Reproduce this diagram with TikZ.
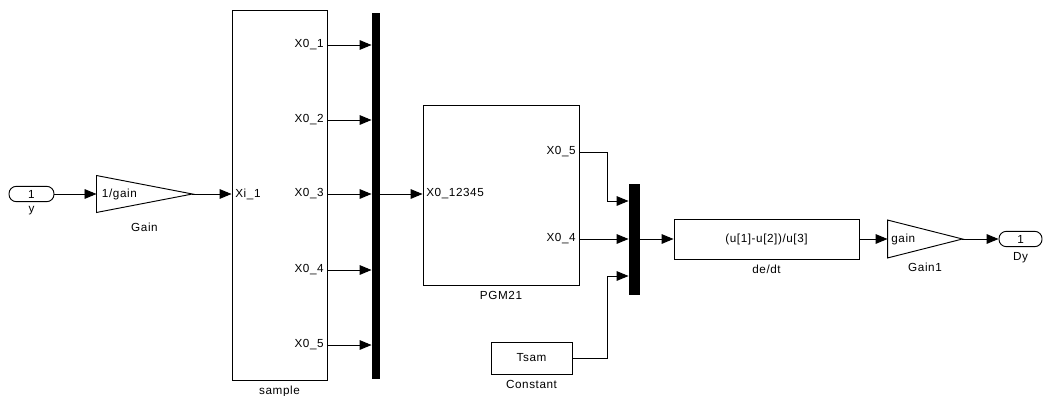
\documentclass[tikz,border=0pt]{standalone}
\usepackage{fontspec}
\setmainfont{Liberation Sans}[LetterSpace=5]
\usepackage{tikz}
\usetikzlibrary{positioning,arrows.meta}

\begin{document}
\begin{tikzpicture}[
  x=0.03cm, y=-0.03cm,
  font=\fontsize{10}{12}\selectfont,
  line width=0.8pt,
  blk/.style={draw, line width=0.8pt, inner sep=0pt},
  inport/.style={draw, rounded corners=0.22cm, minimum height=0.46cm, inner sep=0pt},
  gainblk/.style={inner xsep=0.15cm, inner ysep=0pt, align=left},
  muxbar/.style={fill=black, draw=black, inner sep=0pt},
  port/.style={inner sep=0.1cm},
  lbl/.style={inner sep=0pt},
  arr/.style={-{Triangle[length=0.36cm, width=0.29cm]}}]
\useasboundingbox (0,0) rectangle (1043,396);
% input side
\node[inport, minimum width=1.35cm] (yin) at (31.5,194) {1};
\node[lbl, below=0.12cm of yin] (ylbl) {y};
\node[gainblk, minimum width=2.85cm, minimum height=1.08cm, text width=2.55cm] (gain) at (144.5,194) {1/gain};
\draw (gain.north west) -- (gain.east) -- (gain.south west) -- cycle;
\node[lbl, below=0.3cm of gain] (gainlbl) {Gain};
\node[blk, minimum width=2.85cm, minimum height=11.1cm] (sample) at (279.5,195) {};
\node[lbl, below=0.15cm of sample] (samplelbl) {sample};
\node[port, anchor=west] (xi) at (sample.west |- yin) {Xi\_1};
\node[muxbar, minimum width=0.21cm, minimum height=10.95cm] (mux1) at (375.5,195.5) {};
\draw[arr] (yin) -- (gain);
\draw[arr] (gain.east) -- (sample.west |- gain.east);
\foreach \i/\yy in {1/45,2/120,3/194,4/270,5/345} {
  \node[port, anchor=east] (so\i) at (sample.east |- 0,\yy) {X0\_\i};
  \draw[arr] (sample.east |- so\i) -- (mux1.west |- so\i);
}
% PGM21 and second mux
\node[blk, minimum width=4.68cm, minimum height=5.4cm] (pgm) at (501,195) {};
\node[lbl, below=0.15cm of pgm] (pgmlbl) {PGM21};
\node[port, anchor=west] (pin) at (pgm.west |- yin) {X0\_12345};
\node[port, anchor=east] (p5) at (pgm.east |- 0,152) {X0\_5};
\node[port, anchor=east] (p4) at (pgm.east |- 0,239) {X0\_4};
\draw[arr] (mux1.east |- pin) -- (pgm.west |- pin);
\node[muxbar, minimum width=0.3cm, minimum height=3.3cm] (mux2) at (634,239) {};
\coordinate (m2a) at (mux2.west |- 0,201);
\coordinate (m2c) at (mux2.west |- 0,276);
\node[blk, minimum width=2.43cm, minimum height=0.96cm] (const) at (531.5,358) {Tsam};
\node[lbl, below=0.15cm of const] (constlbl) {Constant};
\draw[arr] (pgm.east |- p5) -| ([xshift=-0.63cm]m2a) -- (m2a);
\draw[arr] (pgm.east |- p4) -- (mux2.west |- p4);
\draw[arr] (const.east) -| ([xshift=-0.63cm]m2c) -- (m2c);
% output side
\node[blk, minimum width=5.55cm, minimum height=1.2cm] (dedt) at (766.5,239) {(u[1]-u[2])/u[3]};
\node[lbl, below=0.15cm of dedt] (dedtlbl) {de/dt};
\node[gainblk, inner xsep=0.1cm, minimum width=2.22cm, minimum height=1.11cm, text width=2.02cm] (gain1) at (925,239) {gain};
\draw (gain1.north west) -- (gain1.east) -- (gain1.south west) -- cycle;
\node[lbl, below=0.15cm of gain1] (gain1lbl) {Gain1};
\node[inport, minimum width=1.29cm] (dy) at (1020.5,239) {1};
\node[lbl, below=0.15cm of dy] (dylbl) {Dy};
\draw[arr] (mux2.east |- dedt) -- (dedt);
\draw[arr] (dedt) -- (gain1);
\draw[arr] (gain1.east) -- (dy);
\end{tikzpicture}
\end{document}
